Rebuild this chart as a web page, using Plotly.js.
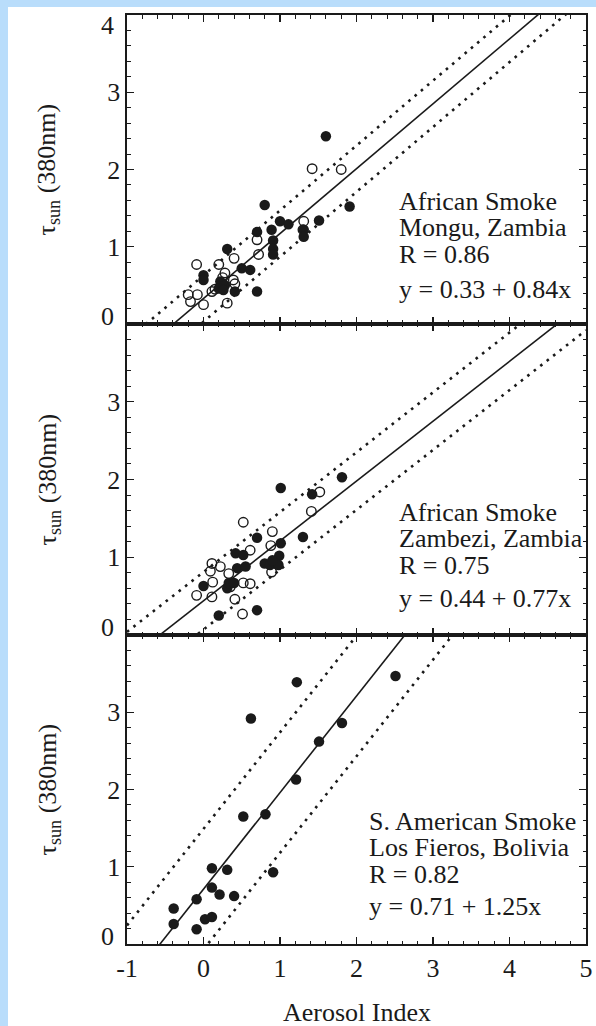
<!DOCTYPE html>
<html><head><meta charset="utf-8">
<script src="https://cdn.plot.ly/plotly-3.0.1.min.js"></script>
<style>
html,body{margin:0;padding:0;background:#b9ddfb;overflow:hidden;}
#chart{position:absolute;left:8px;top:0px;width:588px;height:1026px;background:#fff;}
#band{position:absolute;left:0;top:0;width:596px;height:7px;background:#b9ddfb;z-index:10;}
</style></head><body><div id="chart"></div><div id="band"></div><script>
// ---- data ----
const xTickVals = [-1, 0, 1, 2, 3, 4, 5];
const yTickVals = [0, 1, 2, 3, 4];
const xTitle = "Aerosol Index";
const yTitle = "τ<sub>sun</sub> (380nm)";

// Panel 1: Mongu, Zambia
const monguFilledX = [1.60,0.80,1.91,1.51,1.00,1.11,0.89,0.70,1.31,1.31,0.91,0.91,0.91,0.31,0.50,0.61,0.00,0.00,0.22,0.28,0.20,0.26,0.41,0.70];
const monguFilledY = [2.43,1.54,1.52,1.34,1.33,1.29,1.22,1.19,1.22,1.13,1.08,0.97,0.90,0.97,0.72,0.70,0.63,0.57,0.55,0.50,0.46,0.44,0.42,0.42];
const monguOpenX = [1.42,1.80,1.31,1.30,0.70,0.72,0.40,-0.09,0.20,0.28,0.39,0.41,0.11,-0.20,-0.08,-0.17,0.00,0.31,0.25,0.15];
const monguOpenY = [2.01,2.00,1.33,1.22,1.09,0.90,0.85,0.77,0.77,0.66,0.57,0.52,0.42,0.38,0.38,0.29,0.25,0.27,0.60,0.45];
const monguText = ["African Smoke", "Mongu, Zambia", "R = 0.86", "y = 0.33 + 0.84x"];

// Panel 2: Zambezi, Zambia
const zambeziFilledX = [1.01,1.42,1.81,1.30,0.70,1.01,0.42,0.52,0.44,0.55,0.80,0.87,0.93,0.99,0.98,0.90,0.00,0.31,0.33,0.40,0.20,0.70];
const zambeziFilledY = [1.89,1.81,2.03,1.26,1.25,1.18,1.05,1.03,0.86,0.88,0.92,0.90,0.93,1.02,0.90,0.96,0.63,0.60,0.67,0.67,0.25,0.32];
const zambeziOpenX = [0.52,0.90,1.52,1.41,0.61,0.88,0.11,0.22,0.09,0.12,-0.09,0.11,0.41,0.51,0.52,0.61,0.89,0.33,0.35];
const zambeziOpenY = [1.45,1.33,1.84,1.59,1.09,1.15,0.92,0.88,0.82,0.68,0.51,0.49,0.46,0.27,0.67,0.66,0.81,0.79,0.62];
const zambeziText = ["African Smoke", "Zambezi, Zambia", "R = 0.75", "y = 0.44 + 0.77x"];

// Panel 3: Los Fieros, Bolivia
const losFierosX = [2.51,1.22,0.62,1.81,1.51,1.21,0.52,0.81,0.11,0.31,0.91,0.11,0.21,0.40,-0.09,-0.39,-0.39,0.02,0.11,-0.09];
const losFierosY = [3.47,3.39,2.92,2.86,2.62,2.13,1.65,1.68,0.98,0.96,0.93,0.73,0.64,0.62,0.58,0.46,0.26,0.32,0.35,0.19];
const losFierosText = ["S. American Smoke", "Los Fieros, Bolivia", "R = 0.82", "y = 0.71 + 1.25x"];

// regression fits and dotted band half-widths (top, middle, bottom panel)
const fitIntercept = [0.33, 0.44, 0.71];
const fitSlope = [0.84, 0.77, 1.25];
const bandHalfWidth = [0.30, 0.37, 0.78];

// ---- layout helpers ----
const FONT = "Liberation Serif";
const FS = 26;
const INK = "#1a1a1a";
const panels = [
  {fx: monguFilledX, fy: monguFilledY, ox: monguOpenX, oy: monguOpenY, text: monguText, xa: "x3", ya: "y3", top: true},
  {fx: zambeziFilledX, fy: zambeziFilledY, ox: zambeziOpenX, oy: zambeziOpenY, text: zambeziText, xa: "x2", ya: "y2", top: false},
  {fx: losFierosX, fy: losFierosY, ox: [], oy: [], text: losFierosText, xa: "x", ya: "y", top: false}
];
const textX = [2.53, 2.53, 2.14];
const textY = [[1.584, 1.247, 0.896, 0.445], [1.577, 1.244, 0.897, 0.474], [1.584, 1.247, 0.896, 0.481]];

const traces = [];
const annotations = [];
const lineX = [-1, 5];
const tf = {family: FONT, size: FS, color: INK};
panels.forEach((p, i) => {
  const a = fitIntercept[i], b = fitSlope[i], d = bandHalfWidth[i];
  [-d, d].forEach(off => {
    traces.push({x: lineX, y: lineX.map(v => a + off + b * v), xaxis: p.xa, yaxis: p.ya,
      mode: "lines", line: {color: INK, width: 2.6, dash: "2.6px,5.6px"}, hoverinfo: "skip"});
  });
  traces.push({x: lineX, y: lineX.map(v => a + b * v), xaxis: p.xa, yaxis: p.ya,
    mode: "lines", line: {color: INK, width: 1.6}, hoverinfo: "skip"});
  if (p.ox.length) traces.push({x: p.ox, y: p.oy, xaxis: p.xa, yaxis: p.ya, mode: "markers",
    marker: {symbol: "circle-open", size: 9.5, color: INK, line: {width: 1.4, color: INK}}});
  traces.push({x: p.fx, y: p.fy, xaxis: p.xa, yaxis: p.ya, mode: "markers",
    marker: {symbol: "circle", size: 10.5, color: INK, line: {width: 0}}});
  p.text.forEach((t, j) => annotations.push({text: t, xref: p.xa, yref: p.ya, x: textX[i], y: textY[i][j],
    xanchor: "left", yanchor: "middle", showarrow: false, font: tf}));
  // end-of-range y tick labels are drawn nudged inward, as in the original
  annotations.push({text: String(yTickVals[0]), xref: "paper", yref: p.ya, x: -0.024, y: 0.1,
    xanchor: "right", yanchor: "middle", showarrow: false, font: tf});
  if (p.top) annotations.push({text: String(yTickVals[4]), xref: "paper", yref: p.ya, x: -0.024, y: 3.87,
    xanchor: "right", yanchor: "middle", showarrow: false, font: tf});
});

const doms = [[0.6674, 1], [0.3326, 0.6674], [0, 0.3326]];
doms.forEach((dm) => {
  annotations.push({text: yTitle, xref: "paper", yref: "paper", x: -0.172, y: (dm[0] + dm[1]) / 2,
    textangle: -90, xanchor: "center", yanchor: "middle", showarrow: false, font: tf});
});
annotations.push({text: xTitle, xref: "paper", yref: "paper", x: 0.5, y: -0.0735, xanchor: "center", yanchor: "middle",
  showarrow: false, font: tf});

function xax(anchor, showLabels) {
  return {range: [-1, 5], domain: [0, 1], anchor: anchor, tickvals: xTickVals, ticktext: xTickVals.map(String),
    showticklabels: showLabels, ticks: "inside", ticklen: 7, tickwidth: 1.3, tickcolor: INK,
    minor: {dtick: 0.2, ticks: "inside", ticklen: 3.5, tickwidth: 1, tickcolor: INK},
    showline: true, linecolor: INK, linewidth: 1.6, mirror: "ticks", showgrid: false, zeroline: false,
    ticklabelstandoff: 0, tickfont: tf};
}
function yax(anchor, dom) {
  const tv = yTickVals;
  const tt = tv.map(v => (v === 1 || v === 2 || v === 3) ? String(v) : "");
  return {range: [0, 4], domain: dom, anchor: anchor, tickvals: tv, ticktext: tt,
    ticks: "inside", ticklen: 7, tickwidth: 1.3, tickcolor: INK,
    minor: {dtick: 0.2, ticks: "inside", ticklen: 3.5, tickwidth: 1, tickcolor: INK},
    showline: true, linecolor: INK, linewidth: 1.6, mirror: "ticks", showgrid: false, zeroline: false,
    ticklabelstandoff: 0, tickfont: tf};
}

const layout = {
  width: 588, height: 1026,
  margin: {l: 118.5, r: 10, t: 15, b: 82},
  paper_bgcolor: "#ffffff", plot_bgcolor: "#ffffff",
  showlegend: false,
  xaxis: xax("y", true), xaxis2: xax("y2", false), xaxis3: xax("y3", false),
  yaxis: yax("x", doms[2]), yaxis2: yax("x2", doms[1]), yaxis3: yax("x3", doms[0]),
  annotations: annotations
};
Plotly.newPlot("chart", traces, layout, {staticPlot: true, displayModeBar: false});
</script></body></html>
